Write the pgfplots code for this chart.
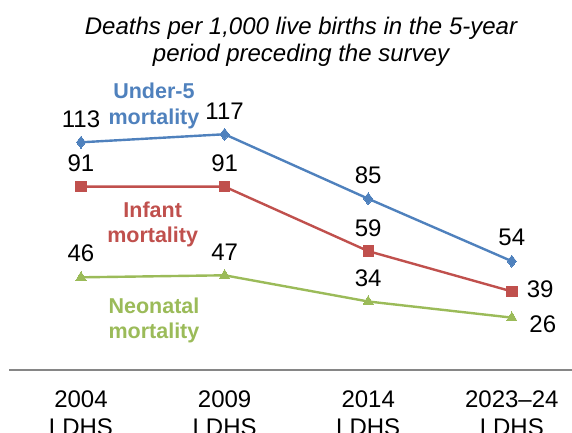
\documentclass[border=0pt]{standalone}
\usepackage{pgfplots}
\pgfplotsset{compat=1.18}
\usepackage{pgfplotstable}
\usepackage{fontspec}
\setmainfont{Liberation Sans}
\definecolor{cblue}{HTML}{4F81BD}
\definecolor{cred}{HTML}{C0504D}
\definecolor{cgreen}{HTML}{9BBB59}
\definecolor{caxis}{HTML}{868686}

\pgfplotstableread{
x y dx dy
0 113 0 23.5
1 117 0 23
2 85 0 23.3
3 54 0 23.7
}\underfive
\pgfplotstableread{
x y dx dy
0 91 0 23.5
1 91 0 23.5
2 59 0 23.3
3 39 28.3 2.4
}\infant
\pgfplotstableread{
x y dx dy
0 46 0 24
1 47 0 23
2 34 0 23
3 26 31 -6.3
}\neonatal

\begin{document}
\begin{tikzpicture}
\begin{axis}[
  at={(0pt,0pt)}, anchor=south west,
  scale only axis,
  width=574.4pt, height=302.25pt,
  xmin=-0.5, xmax=3.5, ymin=0, ymax=150,
  axis x line=bottom, axis y line=none,
  x axis line style={-, draw=caxis, line width=1.6pt},
  xtick={0,1,2,3},
  xticklabels={{2004\\LDHS},{2009\\LDHS},{2014\\LDHS},{2023--24\\LDHS}},
  major tick length=0pt,
  xticklabel style={align=center, inner sep=0pt, anchor=north, yshift=-20pt,
    font=\fontsize{24}{27.7}\selectfont, text=black},
  /pgf/number format/assume math mode=true,
  clip=false,
  visualization depends on={\thisrow{dx} \as \dx},
  visualization depends on={\thisrow{dy} \as \dy},
  nodes near coords,
  every node near coord/.append style={anchor=center, inner sep=0pt,
    xshift=\dx pt, yshift=\dy pt, text=black,
    font=\fontsize{24}{28}\selectfont},
  line width=2.4pt,
]
\addplot[color=cblue, mark=diamond*, mark size=6pt, mark options={solid, line width=0pt}] table[x=x, y=y] {\underfive};
\addplot[color=cred, mark=square*, mark size=5.2pt, mark options={solid, line width=0pt}] table[x=x, y=y] {\infant};
\addplot[color=cgreen, mark=triangle*, mark size=5.8pt, mark options={solid, line width=0pt}] table[x=x, y=y] {\neonatal};

\begin{scope}[every node/.style={anchor=base, inner sep=0pt, font=\fontsize{21.5}{25}\selectfont\bfseries}]
\node[text=cblue] at (axis cs:0.508,134.5) {Under-5};
\node[text=cblue] at (axis cs:0.508,121.9) {mortality};
\node[text=cred] at (axis cs:0.499,75.6) {Infant};
\node[text=cred] at (axis cs:0.499,63.4) {mortality};
\node[text=cgreen] at (axis cs:0.508,28.1) {Neonatal};
\node[text=cgreen] at (axis cs:0.508,15.7) {mortality};
\end{scope}
\end{axis}
\node[anchor=base, inner sep=0pt, font=\fontsize{24}{27}\selectfont\itshape] at (291.8pt,335pt) {Deaths per 1,000 live births in the 5-year};
\node[anchor=base, inner sep=0pt, font=\fontsize{24}{27}\selectfont\itshape] at (291.8pt,308.3pt) {period preceding the survey};
\pgfresetboundingbox
\path[use as bounding box] (-9.2pt,-62pt) rectangle (562.8pt,370pt);
\end{tikzpicture}
\end{document}
